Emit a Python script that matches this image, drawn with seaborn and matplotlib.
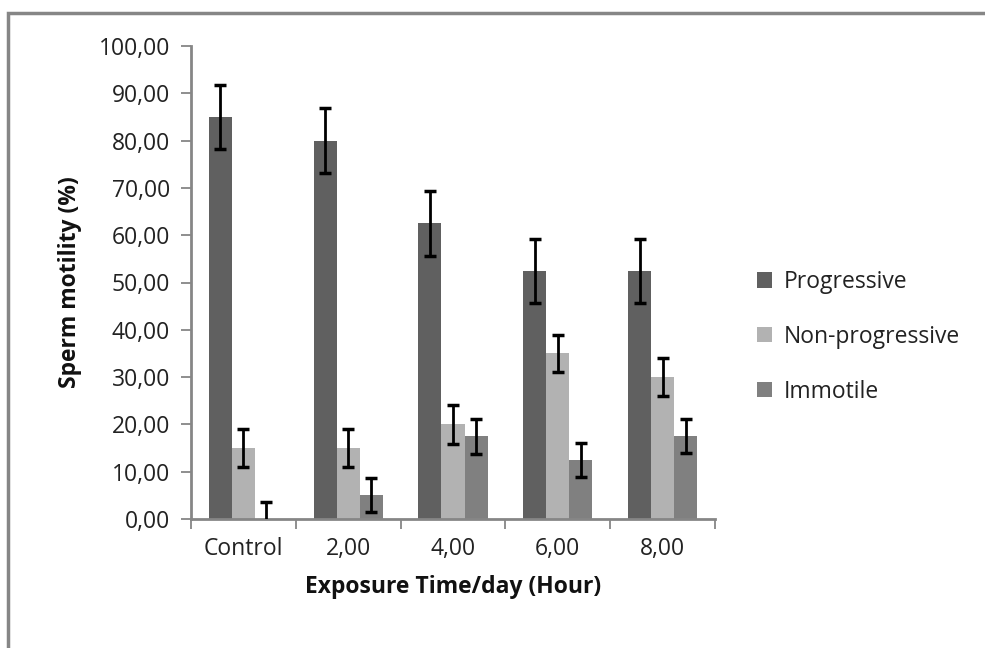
import matplotlib
matplotlib.use('Agg')
import matplotlib.pyplot as plt
import seaborn as sns
import pandas as pd
import numpy as np
from matplotlib.patches import Rectangle
from matplotlib.ticker import FuncFormatter, FixedLocator

# data
groups = ['Control', '2,00', '4,00', '6,00', '8,00']
series = ['Progressive', 'Non-progressive', 'Immotile']
progressive = [85, 80, 62.5, 52.5, 52.5]
non_progressive = [15, 15, 20, 35, 30]
immotile = [0, 5, 17.5, 12.5, 17.5]
err_prog = [6.8, 6.8, 6.8, 6.8, 6.8]
err_nonprog = [4.0, 4.0, 4.1, 4.0, 4.1]
err_imm = [3.6, 3.6, 3.7, 3.6, 3.6]

colores = ['#606060', '#b2b2b2', '#808080']

df = pd.DataFrame({
    'grupo': groups * 3,
    'serie': np.repeat(series, len(groups)),
    'valor': progressive + non_progressive + immotile,
    'erro': err_prog + err_nonprog + err_imm,
})

sns.set_style('white')
plt.rcParams['font.family'] = ['Open Sans', 'DejaVu Sans']

fig = plt.figure(figsize=(9.85, 6.48), dpi=100)
ax = fig.add_axes([191 / 985, 1 - 519 / 648, (715 - 191) / 985, (519 - 46) / 648])

sns.barplot(data=df, x='grupo', y='valor', hue='serie', order=groups, hue_order=series,
            palette=colores, width=0.66, saturation=1, errorbar=None, ax=ax, legend=True,
            linewidth=0)

# error bars on the bar centres
for i, s in enumerate(series):
    cont = ax.containers[i]
    sub = df[df['serie'] == s].set_index('grupo').loc[groups]
    xs = [p.get_x() + p.get_width() / 2 for p in cont]
    ax.errorbar(xs, sub['valor'], yerr=sub['erro'], fmt='none', ecolor='black',
                elinewidth=2, capsize=4.5, capthick=2.5, zorder=5)

ax.set_ylim(0, 100)
ax.set_xlim(-0.5, len(groups) - 0.5)
ax.set_yticks(np.arange(0, 101, 10))
ax.yaxis.set_major_formatter(FuncFormatter(lambda v, p: f'{v:.2f}'.replace('.', ',')))

ax.xaxis.set_major_locator(FixedLocator(range(len(groups))))
ax.set_xticklabels(groups)
ax.xaxis.set_minor_locator(FixedLocator(np.arange(-0.5, len(groups), 1)))
ax.tick_params(axis='x', which='major', length=0, pad=13, labelsize=16.5, colors='#222222')
ax.tick_params(axis='x', which='minor', length=7, width=1.3, color='#868686', bottom=True)
ax.tick_params(axis='y', length=7, width=1.3, color='#868686', labelsize=16.5, pad=8,
               left=True, labelcolor='#222222')

sns.despine(ax=ax)
for sp in ['left', 'bottom']:
    ax.spines[sp].set_color('#868686')
    ax.spines[sp].set_linewidth(2)

ax.set_xlabel('Exposure Time/day (Hour)', fontsize=16.5, fontweight='bold', labelpad=10,
              color='#111111')
ax.set_ylabel('Sperm motility (%)', fontsize=16.5, fontweight='bold', labelpad=12,
              color='#111111')

leg = ax.legend(loc='center left', bbox_to_anchor=(1.08, 0.385), frameon=False, fontsize=16.5,
                handlelength=0.65, handleheight=0.65, handletextpad=0.5, labelspacing=1.35,
                borderaxespad=0, borderpad=0)
for t in leg.get_texts():
    t.set_color('#222222')

# outer frame of the chart
fig.patches.append(Rectangle((8 / 985, -0.1), 1.1, 1.1 - 13 / 648, transform=fig.transFigure,
                             fill=False, edgecolor='#868686', linewidth=2.5))

plt.savefig('out.png', dpi=100)
